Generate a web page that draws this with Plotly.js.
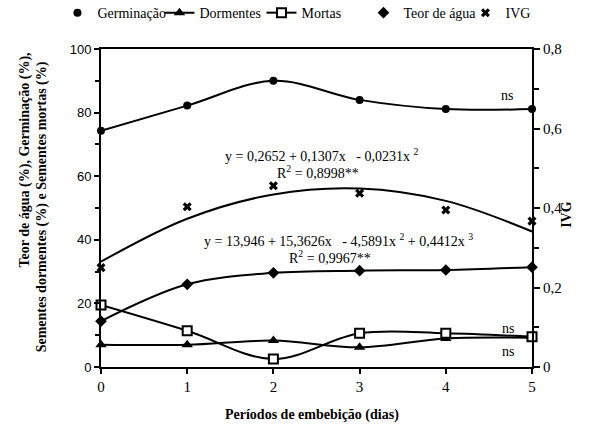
<!DOCTYPE html>
<html>
<head>
<meta charset="utf-8">
<script src="https://cdn.plot.ly/plotly-3.0.1.min.js"></script>
<style>html,body{margin:0;padding:0;background:#fff;}</style>
</head>
<body>
<div id="chart" style="width:594px;height:428px"></div>
<script>
const days = [0, 1, 2, 3, 4, 5];
const germinacao = [74.3, 82.2, 90.0, 84.0, 81.1, 81.1];
const dormentes = [7.0, 7.0, 8.3, 6.2, 9.0, 9.2];
const mortas = [19.5, 11.4, 2.5, 10.6, 10.6, 9.5];
const teorAgua = [14.4, 26.0, 29.6, 30.3, 30.5, 31.4];
const ivg = [0.25, 0.403, 0.456, 0.437, 0.395, 0.367];
const ivgTendencia = [0.265, 0.373, 0.434, 0.449, 0.418, 0.341];
const rightTicks = [0, 0.2, 0.4, 0.6, 0.8];
const rightTickText = ['0', '0,2', '0,4', '0,6', '0,8'];

const FONT_SERIF = 'Liberation Serif';
const FONT_SANS = 'Liberation Sans';
const lineStyle = {color: '#000', width: 2, shape: 'spline', smoothing: 1};

const traces = [
  {x: days, y: germinacao, mode: 'lines', line: lineStyle, showlegend: false, hoverinfo: 'skip', cliponaxis: false},
  {x: days, y: teorAgua, mode: 'lines', line: lineStyle, showlegend: false, hoverinfo: 'skip', cliponaxis: false},
  {x: days, y: ivgTendencia, yaxis: 'y2', mode: 'lines', line: lineStyle, showlegend: false, hoverinfo: 'skip', cliponaxis: false},
  {x: days, y: germinacao, name: 'Germinação', mode: 'markers', cliponaxis: false,
   marker: {symbol: 'circle', size: 8, color: '#000'}},
  {x: days, y: dormentes, name: 'Dormentes', mode: 'lines+markers', cliponaxis: false, line: lineStyle,
   marker: {symbol: 'triangle-up', size: 10, color: '#000'}},
  {x: days, y: mortas, name: 'Mortas', mode: 'lines+markers', cliponaxis: false, line: lineStyle,
   marker: {symbol: 'square', size: 9, color: '#fff', line: {color: '#000', width: 2}}},
  {x: days, y: teorAgua, name: 'Teor de água', mode: 'markers', cliponaxis: false,
   marker: {symbol: 'diamond', size: 9, color: '#000'}},
  {x: days, y: ivg, yaxis: 'y2', name: 'IVG', mode: 'markers', cliponaxis: false,
   marker: {symbol: 'x', size: 8, color: '#000'}}
];

const nb = '\u00A0';
function ann(x, y, text) {
  return {x: x, y: y, xref: 'x', yref: 'y', text: text, showarrow: false,
    xanchor: 'center', yanchor: 'middle', font: {family: FONT_SERIF, size: 14, color: '#000'}};
}
function titleAnn(x, y, text, angle) {
  return {xref: 'paper', yref: 'paper', x: x, y: y, text: text, textangle: angle,
    xanchor: 'center', yanchor: 'middle', showarrow: false, font: {family: FONT_SERIF, size: 14, color: '#000'}};
}

const layout = {
  width: 594, height: 428,
  font: {family: FONT_SERIF, size: 14, color: '#000'},
  margin: {l: 101, r: 62, t: 49, b: 61, autoexpand: false},
  paper_bgcolor: '#fff', plot_bgcolor: '#fff',
  showlegend: true,
  legend: {orientation: 'h', xref: 'paper', yref: 'paper', x: -0.101, xanchor: 'left', y: 1.113, yanchor: 'middle',
    entrywidth: 57, entrywidthmode: 'pixels',
    font: {family: FONT_SERIF, size: 14, color: '#000'}, bgcolor: 'rgba(0,0,0,0)', traceorder: 'normal'},
  xaxis: {range: [0, 5], tickvals: days, showgrid: false, zeroline: false,
    showline: true, linecolor: '#000', linewidth: 2, mirror: true,
    ticks: 'outside', ticklen: 5, tickwidth: 2, tickcolor: '#000',
    tickfont: {family: FONT_SERIF, size: 15, color: '#000'}},
  yaxis: {range: [0, 100], dtick: 20, showgrid: false, zeroline: false,
    showline: true, linecolor: '#000', linewidth: 2,
    ticks: 'outside', ticklen: 5, tickwidth: 2, tickcolor: '#000',
    minor: {dtick: 10, ticks: 'outside', ticklen: 4, tickwidth: 2, tickcolor: '#000'},
    tickfont: {family: FONT_SANS, size: 13, color: '#000'}},
  yaxis2: {range: [0, 0.8], overlaying: 'y', side: 'right', tickvals: rightTicks, ticktext: rightTickText,
    showgrid: false, zeroline: false, showline: true, linecolor: '#000', linewidth: 2,
    ticks: 'outside', ticklen: 6, tickwidth: 2, tickcolor: '#000',
    minor: {dtick: 0.1, ticks: 'outside', ticklen: 5, tickwidth: 2, tickcolor: '#000'},
    tickfont: {family: FONT_SERIF, size: 15, color: '#000'}},
  annotations: [
    ann(2.56, 66.7, 'y = 0,2652 + 0,1307x' + nb + nb + nb + '- 0,0231x <sup>2</sup>'),
    ann(2.52, 61.3, 'R<sup>2</sup> = 0,8998**'),
    ann(2.75, 40, 'y = 13,946 + 15,3626x' + nb + nb + nb + '- 4,5891x <sup>2</sup> + 0,4412x <sup>3</sup>'),
    ann(2.66, 34.5, 'R<sup>2</sup> = 0,9967**'),
    ann(4.71, 85.4, 'ns'),
    ann(4.72, 12.2, 'ns'),
    ann(4.72, 4.8, 'ns'),
    titleAnn(-0.176, 0.65, '<b>Teor de água (%), Germinação (%),</b>', -90),
    titleAnn(-0.137, 0.505, '<b>Sementes dormentes (%) e Sementes mortas (%)</b>', -90),
    titleAnn(1.08, 0.48, '<b>IVG</b>', -90),
    titleAnn(0.49, -0.15, '<b>Períodos de embebição (dias)</b>', 0)
  ]
};

Plotly.newPlot('chart', traces, layout, {staticPlot: true, displayModeBar: false});
</script>
</body>
</html>
